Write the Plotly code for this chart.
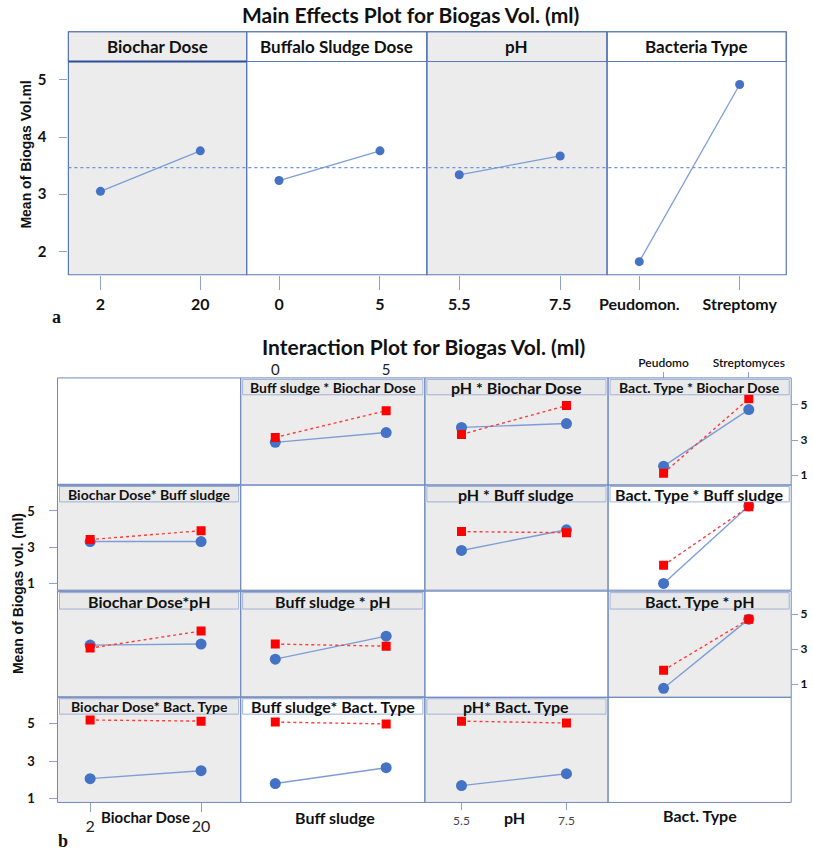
import plotly.graph_objects as go

# ---------------- data ----------------
# Main effects (means of biogas volume)
biochar_levels = ["2", "20"]
sludge_levels = ["0", "5"]
ph_levels = ["5.5", "7.5"]
bact_levels = ["Peudomon.", "Streptomy"]
main_biochar = [3.05, 3.76]
main_sludge = [3.24, 3.76]
main_ph = [3.34, 3.67]
main_bact = [1.82, 4.92]
grand_mean = 3.465

# Interaction plot: x factor levels (per column)
ix_biochar = ["2", "20"]
ix_sludge = ["0", "5"]
ix_ph = ["5.5", "7.5"]
ix_bact = ["Peudomo", "Streptomyces"]

# "<x factor>_by_<trace factor>_low/high": low level = blue, high level = red
sludge_by_biochar_low = [2.87, 3.43]
sludge_by_biochar_high = [3.15, 4.67]
ph_by_biochar_low = [3.72, 3.94]
ph_by_biochar_high = [3.32, 4.96]
bact_by_biochar_low = [1.52, 4.73]
bact_by_biochar_high = [1.12, 5.35]

biochar_by_sludge_low = [3.31, 3.31]
biochar_by_sludge_high = [3.42, 3.91]
ph_by_sludge_low = [2.82, 3.96]
ph_by_sludge_high = [3.86, 3.80]
bact_by_sludge_low = [1.00, 5.28]
bact_by_sludge_high = [2.00, 5.23]

biochar_by_ph_low = [3.23, 3.29]
biochar_by_ph_high = [3.06, 4.03]
sludge_by_ph_low = [2.43, 3.74]
sludge_by_ph_high = [3.29, 3.17]
bact_by_ph_low = [0.77, 4.71]
bact_by_ph_high = [1.80, 4.71]

biochar_by_bact_low = [2.07, 2.49]
biochar_by_bact_high = [5.18, 5.12]
sludge_by_bact_low = [1.81, 2.65]
sludge_by_bact_high = [5.07, 4.97]
ph_by_bact_low = [1.70, 2.33]
ph_by_bact_high = [5.12, 5.02]

interaction_ticks = [1, 3, 5]
main_ticks = [2, 3, 4, 5]

# ---------------- helpers ----------------
W, H = 813, 860
def px(x): return x / W
def py(y): return 1 - y / H

FONT = "Lato, 'Open Sans', sans-serif"
BORDER = "#5b79b6"
GRAY = "#ececec"
HEAD_GRAY = "#e9e9e9"
TICKC = "#8da2cf"
BLUE_M = "#4472c4"
BLUE_L = "#7d9dd6"
RED = "#ff0000"

fig = go.Figure()
layout = {}
shapes = []
annotations = []
n_ax = [0]

def new_axes(xdom, ydom, xcfg, ycfg):
    n_ax[0] += 1
    n = n_ax[0]
    xk = 'xaxis' if n == 1 else f'xaxis{n}'
    yk = 'yaxis' if n == 1 else f'yaxis{n}'
    xr = 'x' if n == 1 else f'x{n}'
    yr = 'y' if n == 1 else f'y{n}'
    base = dict(showgrid=False, zeroline=False, showline=False, fixedrange=True)
    layout[xk] = {**base, 'domain': xdom, 'anchor': yr, **xcfg}
    layout[yk] = {**base, 'domain': ydom, 'anchor': xr, **ycfg}
    return xr, yr

def rect(x0, y0, x1, y1, fill=None, line=None, lw=1, layer='below'):
    shapes.append(dict(type='rect', xref='paper', yref='paper',
                       x0=px(x0), x1=px(x1), y0=py(y1), y1=py(y0),
                       fillcolor=fill if fill else 'rgba(0,0,0,0)',
                       line=dict(color=line if line else 'rgba(0,0,0,0)', width=lw if line else 0),
                       layer=layer))

def hline(x0, x1, y, color, lw):
    shapes.append(dict(type='line', xref='paper', yref='paper', x0=px(x0), x1=px(x1),
                       y0=py(y), y1=py(y), line=dict(color=color, width=lw), layer='above'))

def text(x, y, s, size, family=FONT, bold=True, angle=0, color="#111"):
    annotations.append(dict(xref='paper', yref='paper', x=px(x), y=py(y), text=s,
                            showarrow=False, textangle=angle, xanchor='center', yanchor='middle',
                            font=dict(family=family, size=size, color=color,
                                      weight='bold' if bold else 'normal')))

# ---------------- main effects panel ----------------
top_cols = [(61, 241), (241, 423), (423, 605), (605, 786)]
top_head = (29, 59)
top_plot = (59, 274)
top_fill = [GRAY, "white", GRAY, "white"]
main_levels = [biochar_levels, sludge_levels, ph_levels, bact_levels]
main_means = [main_biochar, main_sludge, main_ph, main_bact]
main_headers = ["Biochar Dose", "Buffalo Sludge Dose", "pH", "Bacteria Type"]
top_yrange = [1.59, 5.323]

for i, (x0, x1) in enumerate(top_cols):
    rect(x0, top_plot[0], x1, top_plot[1], fill=top_fill[i])
    rect(x0, top_head[0], x1, top_head[1], fill=top_fill[i], line=BORDER, lw=1)
    xcfg = dict(type='category', range=[-0.321, 1.464], ticks='outside', ticklen=14,
                tickcolor=TICKC, tickwidth=1.3, ticklabelstandoff=1,
                tickfont=dict(family=FONT, size=16, color="#111", weight='bold'))
    if i == 0:
        ycfg = dict(range=top_yrange, tickvals=main_ticks, ticks='outside', ticklen=8,
                    tickcolor=TICKC, tickwidth=1.3, ticklabelstandoff=10,
                    tickfont=dict(family=FONT, size=15, color="#111", weight='bold'))
    else:
        ycfg = dict(range=top_yrange, showticklabels=False, ticks='')
    xr, yr = new_axes([px(x0), px(x1)], [py(top_plot[1]), py(top_plot[0])], xcfg, ycfg)
    fig.add_trace(go.Scatter(x=main_levels[i], y=main_means[i], mode='lines+markers',
                             xaxis=xr, yaxis=yr, showlegend=False, hoverinfo='skip',
                             line=dict(color=BLUE_L, width=1.3),
                             marker=dict(color=BLUE_M, size=9, symbol='circle')))
    rect(x0, top_head[0], x1, top_plot[1], line=BORDER, lw=1.2, layer='above')
    text((x0 + x1) / 2, 44, main_headers[i], 17)

# darker bottom line under first header
hline(61, 241, 59, "#2d4c99", 2)
# grand mean reference line
shapes.append(dict(type='line', xref='paper', yref='y', x0=px(61), x1=px(786),
                   y0=grand_mean, y1=grand_mean, layer='above',
                   line=dict(color="#6f92d8", width=1.2, dash='dot')))

text(406, 12, "Main Effects Plot for Biogas Vol. (ml)", 21)
text(18, 153, "Mean of Biogas Vol.ml", 14, family="'Liberation Sans', Arial, sans-serif", angle=-90)
text(49, 317, "a", 18, family="'Liberation Serif', 'Times New Roman', serif")

# ---------------- interaction matrix ----------------
cols = [(50, 235), (235, 421), (421, 606), (606, 791)]
rows = [(378, 395, 486), (486, 503, 592), (593, 611, 700), (700, 717, 806)]
row_yrange = [[0.446, 5.573], [0.626, 5.50], [0.257, 5.286], [0.807, 5.49]]
col_xrange = [[-0.294, 1.357], [-0.312, 1.349], [-0.349, 1.396], [-0.652, 1.498]]
col_levels = [ix_biochar, ix_sludge, ix_ph, ix_bact]

cells = {
    (0, 1): ("Buff sludge * Biochar Dose", 14, sludge_by_biochar_low, sludge_by_biochar_high),
    (0, 2): ("pH * Biochar Dose", 16, ph_by_biochar_low, ph_by_biochar_high),
    (0, 3): ("Bact. Type * Biochar Dose", 14, bact_by_biochar_low, bact_by_biochar_high),
    (1, 0): ("Biochar Dose* Buff sludge", 14, biochar_by_sludge_low, biochar_by_sludge_high),
    (1, 2): ("pH * Buff sludge", 16, ph_by_sludge_low, ph_by_sludge_high),
    (1, 3): ("Bact. Type * Buff sludge", 16, bact_by_sludge_low, bact_by_sludge_high),
    (2, 0): ("Biochar Dose*pH", 16, biochar_by_ph_low, biochar_by_ph_high),
    (2, 1): ("Buff sludge * pH", 16, sludge_by_ph_low, sludge_by_ph_high),
    (2, 3): ("Bact. Type * pH", 16, bact_by_ph_low, bact_by_ph_high),
    (3, 0): ("Biochar Dose* Bact. Type", 14, biochar_by_bact_low, biochar_by_bact_high),
    (3, 1): ("Buff sludge* Bact. Type", 16, sludge_by_bact_low, sludge_by_bact_high),
    (3, 2): ("pH* Bact. Type", 16, ph_by_bact_low, ph_by_bact_high),
}
white_cells = {(1, 3), (3, 1)}

for r, (ytop, yhead, ybot) in enumerate(rows):
    for c, (x0, x1) in enumerate(cols):
        if (r, c) not in cells:
            rect(x0, ytop, x1, ybot, fill="white")
            rect(x0, ytop, x1, ybot, line="#6f88bd", lw=1, layer='above')
            continue
        title, tsize, low, high = cells[(r, c)]
        bg = "white" if (r, c) in white_cells else GRAY
        rect(x0, yhead, x1, ybot, fill=bg)
        rect(x0 + 2, ytop + 1.5, x1 - 2, yhead, fill="white" if (r, c) in white_cells else HEAD_GRAY,
             line="#9fb0d3", lw=1)
        # x axis config
        xcfg = dict(type='category', range=col_xrange[c], showticklabels=False, ticks='')
        if (r, c) == (3, 0):
            xcfg.update(showticklabels=True, ticks='outside', ticklen=9, tickcolor=TICKC,
                        ticklabelstandoff=0, tickfont=dict(family=FONT, size=16, color="#222"))
        elif (r, c) == (3, 2):
            xcfg.update(showticklabels=True, ticks='outside', ticklen=7, tickcolor=TICKC,
                        ticklabelstandoff=0, tickfont=dict(family=FONT, size=12, color="#444"))
        elif (r, c) == (0, 1):
            xcfg.update(showticklabels=True, side='top', ticks='', ticklabelstandoff=0,
                        anchor='free', position=py(ytop),
                        tickfont=dict(family=FONT, size=15, color="#222"))
        elif (r, c) == (0, 3):
            xcfg.update(showticklabels=True, side='top', ticks='outside', ticklen=6,
                        tickcolor=TICKC, ticklabelstandoff=0,
                        anchor='free', position=py(ytop),
                        tickfont=dict(family=FONT, size=12, color="#111", weight=600))
        # y axis config
        ycfg = dict(range=row_yrange[r], showticklabels=False, ticks='')
        if (r, c) in [(1, 0), (3, 0)]:
            ycfg.update(showticklabels=True, tickvals=interaction_ticks, ticks='outside',
                        ticklen=8, tickcolor=TICKC, ticklabelstandoff=11,
                        tickfont=dict(family=FONT, size=13, color="#111", weight='bold'))
        elif (r, c) in [(0, 3), (2, 3)]:
            ycfg.update(showticklabels=True, side='right', tickvals=interaction_ticks,
                        ticks='outside', ticklen=6, tickcolor=TICKC, ticklabelstandoff=0,
                        tickfont=dict(family=FONT, size=12, color="#111", weight='bold'))
        xr, yr = new_axes([px(x0), px(x1)], [py(ybot), py(yhead)], xcfg, ycfg)
        fig.add_trace(go.Scatter(x=col_levels[c], y=low, mode='lines+markers',
                                 xaxis=xr, yaxis=yr, showlegend=False, hoverinfo='skip',
                                 line=dict(color=BLUE_L, width=1.4),
                                 marker=dict(color=BLUE_M, size=11, symbol='circle')))
        fig.add_trace(go.Scatter(x=col_levels[c], y=high, mode='lines+markers',
                                 xaxis=xr, yaxis=yr, showlegend=False, hoverinfo='skip',
                                 line=dict(color="#ff3b3b", width=1.4, dash='dot'),
                                 marker=dict(color=RED, size=9, symbol='square')))
        rect(x0, ytop, x1, ybot, line="#6f88bd", lw=1, layer='above')
        text((x0 + x1) / 2, (ytop + yhead) / 2 + 1, title, tsize)

# heavier separators seen in the reference
hline(50, 235, 486, "#7d93c2", 2.5)
hline(50, 421, 593, "#7d93c2", 2)
hline(50, 421, 700, "#7d93c2", 2)

text(420, 346, "Interaction Plot for Biogas Vol. (ml)", 21)
text(10, 595, "Mean of Biogas vol. (ml)", 14, family="'Liberation Sans', Arial, sans-serif", angle=-90)
text(139, 821, "Biochar Dose", 15)
text(330, 821, "Buff sludge", 16)
text(512, 821, "pH", 16)
text(699, 819, "Bact. Type", 16)
text(56, 845, "b", 18, family="'Liberation Serif', 'Times New Roman', serif")

fig.update_layout(width=W, height=H, margin=dict(l=0, r=0, t=0, b=0),
                  paper_bgcolor="white", plot_bgcolor="rgba(0,0,0,0)",
                  shapes=shapes, annotations=annotations, **layout)
fig.write_html("out.html", config={'displayModeBar': False},
               post_script="document.body.style.margin='0';document.body.style.overflow='hidden';")
